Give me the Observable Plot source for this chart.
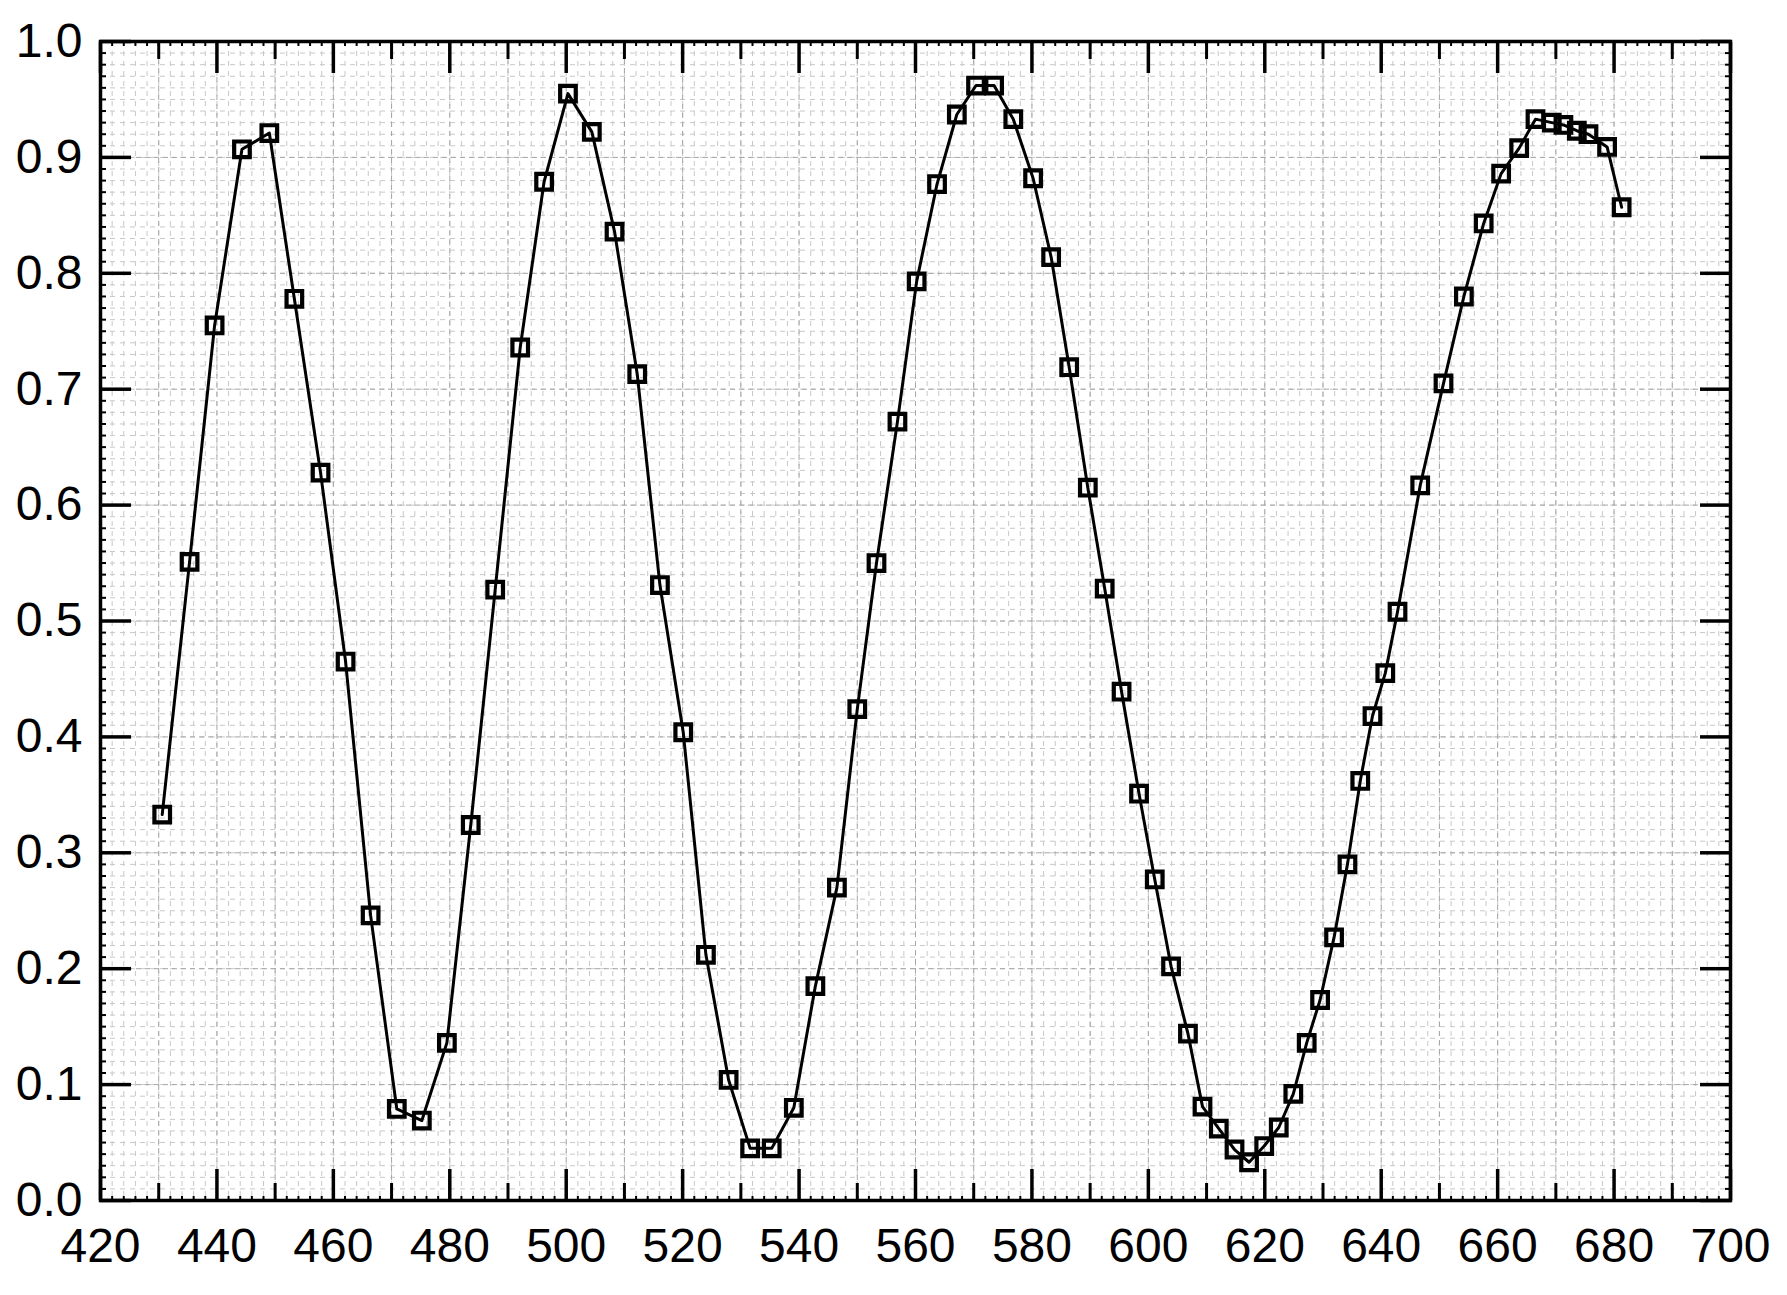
<!DOCTYPE html>
<html>
<head>
<meta charset="utf-8">
<script src="https://cdn.jsdelivr.net/npm/d3@7"></script>
<script src="https://cdn.jsdelivr.net/npm/@observablehq/plot@0.6"></script>
<style>
  html, body { margin: 0; padding: 0; background: #fff; }
  #chart svg { display: block; }
</style>
</head>
<body>
<div id="chart"></div>
<script>
// Data
const wavelength = [430.6, 435.3, 439.6, 444.3, 449.0, 453.3, 457.8, 462.1, 466.4, 470.9,
  475.2, 479.5, 483.6, 487.8, 492.1, 496.2, 500.3, 504.4, 508.3, 512.2,
  516.1, 520.1, 524.0, 527.9, 531.6, 535.3, 539.1, 542.8, 546.5, 550.0,
  553.3, 556.9, 560.2, 563.7, 567.1, 570.4, 573.5, 576.8, 580.2, 583.3,
  586.4, 589.6, 592.5, 595.4, 598.4, 601.1, 603.9, 606.8, 609.3, 612.1,
  614.8, 617.3, 619.9, 622.4, 624.9, 627.2, 629.5, 631.9, 634.2, 636.4,
  638.5, 640.7, 642.8, 646.7, 650.7, 654.2, 657.6, 660.6, 663.7, 666.5,
  669.3, 671.3, 673.6, 675.6, 678.8, 681.3];
const transmission = [0.333, 0.551, 0.755, 0.907, 0.921, 0.778, 0.628, 0.465, 0.246, 0.079,
  0.069, 0.136, 0.324, 0.527, 0.736, 0.879, 0.955, 0.922, 0.836, 0.713,
  0.531, 0.404, 0.212, 0.104, 0.045, 0.045, 0.080, 0.185, 0.270, 0.424,
  0.550, 0.672, 0.793, 0.877, 0.937, 0.962, 0.962, 0.933, 0.882, 0.814,
  0.719, 0.615, 0.528, 0.439, 0.351, 0.277, 0.202, 0.144, 0.081, 0.062,
  0.044, 0.033, 0.047, 0.063, 0.092, 0.136, 0.173, 0.227, 0.290, 0.362,
  0.418, 0.455, 0.508, 0.617, 0.705, 0.780, 0.843, 0.886, 0.908, 0.933,
  0.930, 0.928, 0.923, 0.920, 0.909, 0.857];

// Tick values
const xTicks = [420, 440, 460, 480, 500, 520, 540, 560, 580, 600, 620, 640, 660, 680, 700];
const xMidTicks = [430, 450, 470, 490, 510, 530, 550, 570, 590, 610, 630, 650, 670, 690];
const yTicks = [0.0, 0.1, 0.2, 0.3, 0.4, 0.5, 0.6, 0.7, 0.8, 0.9, 1.0];

const xMinor = d3.range(420, 701, 2);
const x10 = d3.range(420, 701, 10);
const yMinor = d3.range(0, 101).map(i => i / 100);

const data = wavelength.map((w, i) => ({w, t: transmission[i]}));

const font = "'Liberation Sans', Arial, Helvetica, sans-serif";

const tickAxesX = (anchor) => [
  Plot.axisX(xTicks, {anchor, tickSize: -31, strokeWidth: 3.5, tickFormat: () => "", label: null}),
  Plot.axisX(xMidTicks, {anchor, tickSize: -17, strokeWidth: 3, tickFormat: () => "", label: null}),
  Plot.axisX(xMinor, {anchor, tickSize: -4, strokeWidth: 2, tickFormat: () => "", label: null})
];
const tickAxesY = (anchor) => [
  Plot.axisY(yTicks, {anchor, tickSize: -31, strokeWidth: 3.5, tickFormat: () => "", label: null}),
  Plot.axisY(yMinor, {anchor, tickSize: -6, strokeWidth: 2, tickFormat: () => "", label: null})
];

const chart = Plot.plot({
  width: 1787,
  height: 1295,
  marginLeft: 100,
  marginRight: 57,
  marginTop: 41,
  marginBottom: 95,
  style: {fontFamily: font, fontSize: "48px", color: "black", background: "white"},
  x: {domain: [420, 700], label: null},
  y: {domain: [0, 1], label: null},
  marks: [
    Plot.ruleX(xMinor, {stroke: "#c8c8c8", strokeWidth: 1, strokeDasharray: "5,5"}),
    Plot.ruleY(yMinor, {stroke: "#c8c8c8", strokeWidth: 1, strokeDasharray: "5,5"}),
    Plot.ruleX(x10, {stroke: "#a6a6a6", strokeWidth: 1, strokeDasharray: "5,4"}),
    Plot.ruleY(yTicks, {stroke: "#a6a6a6", strokeWidth: 1, strokeDasharray: "5,4"}),
    ...tickAxesX("bottom"),
    ...tickAxesX("top"),
    ...tickAxesY("left"),
    ...tickAxesY("right"),
    Plot.axisX(xTicks, {anchor: "bottom", tickSize: 0, tickPadding: 27, fontSize: 48, tickFormat: d3.format("d"), label: null}),
    Plot.axisY(yTicks, {anchor: "left", tickSize: 0, tickPadding: 18, fontSize: 48, tickFormat: d3.format(".1f"), label: null}),
    Plot.frame({stroke: "black", strokeWidth: 3.5}),
    Plot.line(data, {x: "w", y: "t", stroke: "black", strokeWidth: 3}),
    Plot.dot(data, {x: "w", y: "t", symbol: "square", r: 8.8, stroke: "black", strokeWidth: 4.2, fill: "none"})
  ]
});

document.getElementById("chart").appendChild(chart);
</script>
</body>
</html>
